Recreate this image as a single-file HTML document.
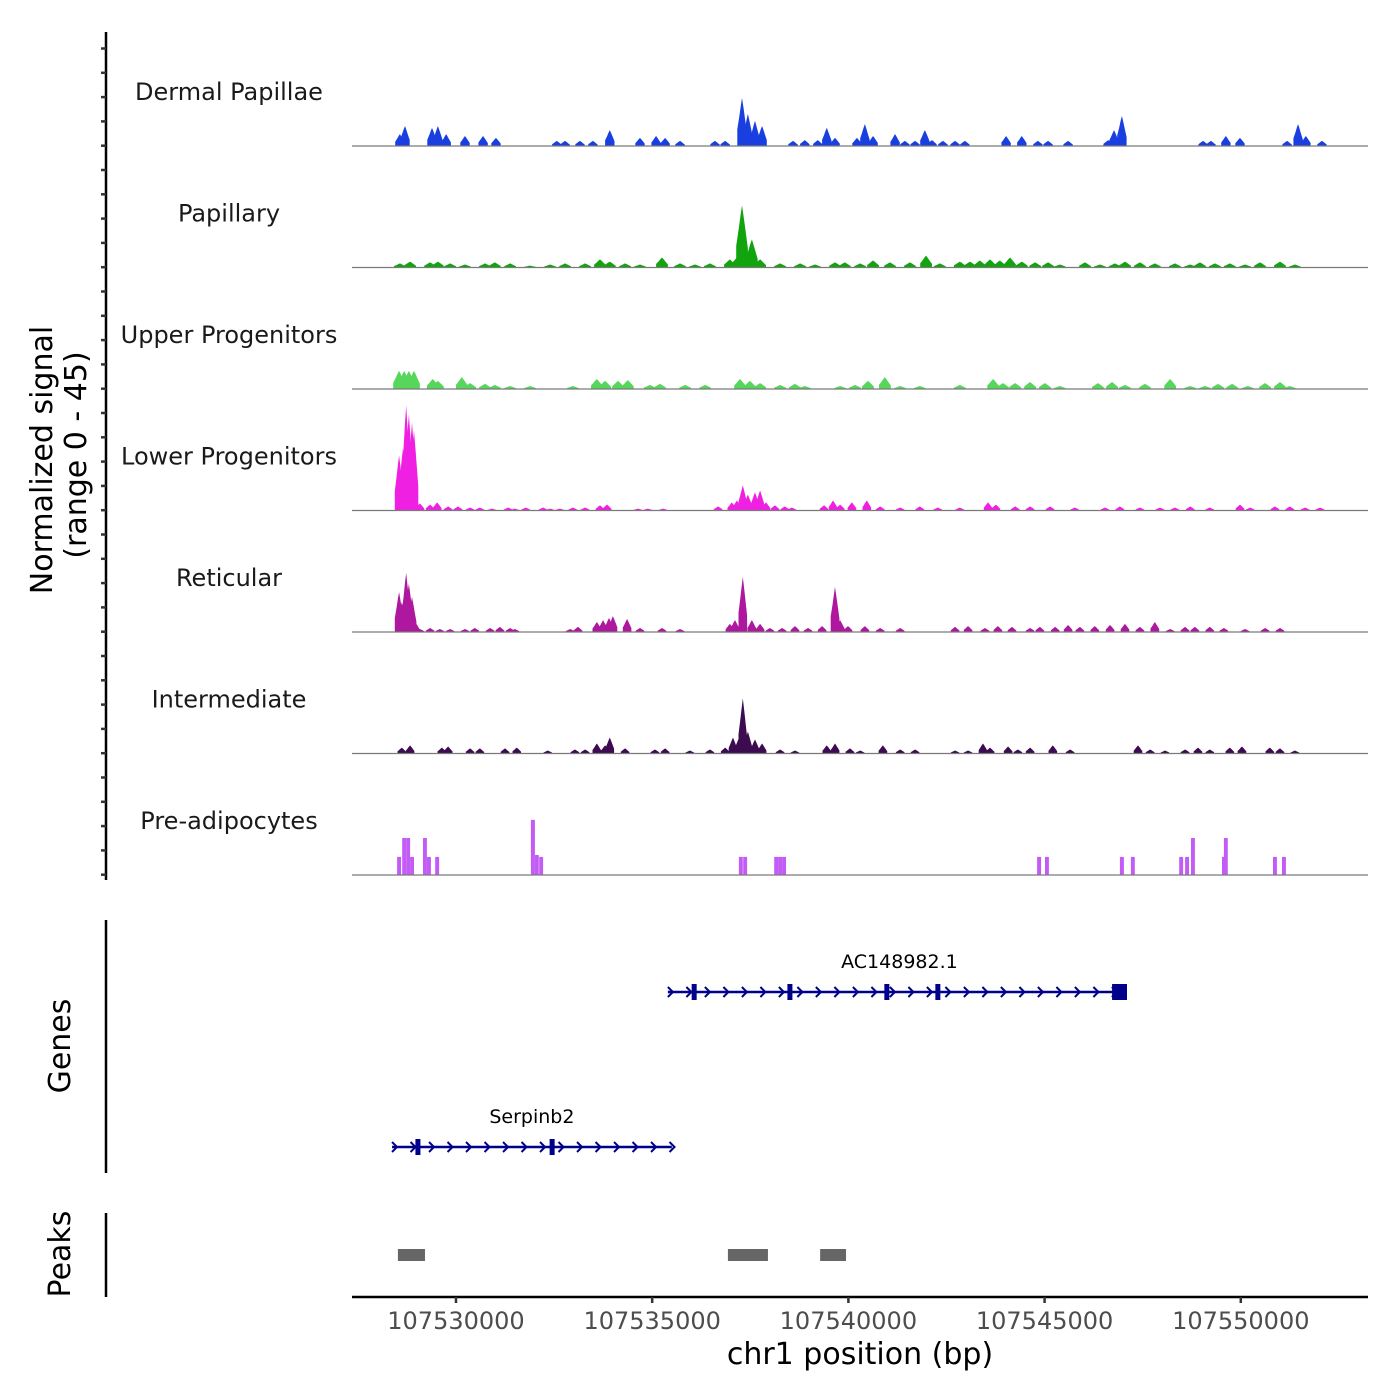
<!DOCTYPE html>
<html><head><meta charset="utf-8">
<style>
html,body{margin:0;padding:0;background:#fff;}
svg{display:block;font-family:"DejaVu Sans","Liberation Sans",sans-serif;}
</style></head>
<body>
<svg id="chart" width="1400" height="1400" viewBox="0 0 1400 1400">
  <g id="left"></g>
  <g id="tracks"></g>
  <g id="genes"></g>
  <g id="peaks"></g>
  <g id="xaxis"></g>
</svg>
<script>
// ---- data (positions in kb offset from region start 107527350 bp; values in normalized signal units) ----
const REGION_START_BP = 107527350;
const xTickValues = [107530000, 107535000, 107540000, 107545000, 107550000];
const xTickLabels = ["107530000", "107535000", "107540000", "107545000", "107550000"];
const trackNames = ["Dermal Papillae","Papillary","Upper Progenitors","Lower Progenitors","Reticular","Intermediate","Pre-adipocytes"];
const trackColors = ["#1a3fe0","#12a40e","#57d65c","#f020e3","#ad189f","#3c0b50","#c25cf5"];

const dpPos = [1.22,1.35,2.04,2.19,2.40,2.88,3.34,3.67,5.22,5.43,5.81,6.14,6.57,7.34,7.75,7.98,8.36,9.25,9.51,9.94,10.09,10.27,10.45,11.24,11.54,11.87,12.10,12.31,12.87,13.07,13.28,13.84,14.09,14.35,14.60,14.78,15.06,15.37,15.62,16.67,17.07,17.48,17.74,18.25,19.27,19.42,19.62,21.69,21.89,22.27,22.63,23.83,24.11,24.31,24.72];
const dpVal = [4.4,7.4,6.7,7.4,4.4,3.7,3.7,3.0,1.9,1.9,1.9,1.9,5.9,3.0,3.7,3.0,1.9,1.9,1.9,17.8,11.9,9.3,7.4,1.9,2.2,2.2,6.7,3.0,3.0,8.1,3.7,4.4,1.9,1.9,5.9,2.2,1.9,1.9,1.9,3.7,3.7,1.9,1.9,1.9,2.2,5.9,11.1,1.9,1.9,3.7,3.0,1.9,8.1,3.7,1.9];

const paPos = [1.22,1.48,1.99,2.19,2.50,2.88,3.39,3.64,4.03,4.54,5.05,5.43,5.94,6.32,6.57,6.96,7.34,7.90,8.36,8.74,9.12,9.63,9.81,9.94,10.19,10.40,10.91,11.42,11.80,12.31,12.56,12.95,13.28,13.71,14.22,14.63,14.98,15.49,15.75,16.00,16.26,16.51,16.77,17.07,17.41,17.74,18.04,18.68,19.06,19.44,19.70,20.08,20.46,20.97,21.36,21.61,21.99,22.37,22.76,23.14,23.65,24.03];
const paVal = [1.5,2.2,1.9,2.2,1.5,1.1,1.5,1.9,1.5,0.7,1.1,1.5,1.5,3.0,2.2,1.5,1.1,3.7,1.5,1.1,1.5,3.0,3.7,23.0,10.4,3.0,1.5,1.5,1.1,1.9,1.9,1.5,2.6,1.9,1.9,4.4,1.5,2.2,2.2,2.6,3.0,2.6,3.7,2.2,1.9,1.9,1.1,1.9,1.1,1.5,2.2,1.9,1.5,1.5,1.1,1.9,1.5,1.5,1.1,1.9,2.2,1.1];

const upPos = [1.20,1.33,1.45,1.58,2.06,2.19,2.80,3.01,3.39,3.64,4.03,4.54,5.63,6.24,6.45,6.78,7.03,7.59,7.85,8.49,9.00,9.89,10.14,10.40,10.91,11.29,11.54,12.44,12.82,13.15,13.58,13.97,14.47,15.49,16.34,16.59,16.90,17.28,17.66,18.04,19.01,19.37,19.70,20.21,20.85,21.36,21.74,22.07,22.43,22.83,23.27,23.65,23.90];
const upVal = [6.7,6.7,6.7,6.7,3.7,3.0,4.4,2.2,1.9,1.5,1.1,1.1,1.1,3.7,3.0,3.0,3.3,1.5,1.9,1.5,1.5,3.7,3.0,2.2,1.5,1.9,1.1,1.1,1.5,3.0,4.4,1.1,1.1,1.5,3.7,2.2,2.2,2.6,2.2,1.1,2.2,2.6,1.5,1.9,3.7,1.1,1.1,1.9,1.9,1.1,2.2,2.6,1.1];

const lpPos = [1.20,1.30,1.38,1.45,1.53,1.58,1.73,1.99,2.17,2.45,2.70,3.01,3.26,3.57,3.98,4.15,4.43,4.87,5.05,5.30,5.63,5.94,6.32,6.50,7.29,7.54,7.93,9.33,9.68,9.81,9.96,10.09,10.27,10.40,10.55,10.78,11.03,11.21,12.03,12.26,12.44,12.74,13.12,13.46,13.97,14.47,14.93,15.49,16.21,16.41,16.90,17.28,17.79,18.42,19.19,19.57,20.08,20.59,20.97,21.36,21.86,22.63,22.89,23.52,23.90,24.29,24.67];
const lpVal = [20.4,23.0,38.9,35.6,32.6,29.6,2.6,2.2,3.0,1.5,1.5,1.1,1.1,0.7,1.1,0.7,1.1,1.1,0.7,0.7,1.1,1.1,1.9,2.2,0.7,0.7,0.7,1.5,3.0,3.7,9.3,5.9,6.7,7.4,3.0,1.9,1.5,1.1,1.9,3.7,2.2,3.0,3.7,1.5,1.1,1.5,1.1,1.1,3.0,2.2,1.5,1.5,1.5,1.1,1.1,1.5,1.1,1.1,1.1,1.5,1.1,2.2,1.1,1.5,1.5,1.1,1.1];

const rePos = [1.20,1.27,1.38,1.45,1.53,1.61,1.73,1.99,2.24,2.50,2.88,3.13,3.52,3.77,4.03,4.15,5.56,5.76,6.24,6.40,6.55,6.65,7.01,7.34,7.90,8.36,9.63,9.76,9.96,10.19,10.40,10.65,10.96,11.29,11.62,11.98,12.31,12.44,12.64,13.07,13.46,13.97,15.37,15.70,16.13,16.46,16.82,17.28,17.53,17.92,18.25,18.55,18.93,19.32,19.70,20.08,20.46,20.85,21.23,21.48,21.86,22.22,22.76,23.27,23.65];
const reVal = [14.8,11.1,21.9,17.8,13.0,3.7,1.1,1.5,1.1,1.1,1.1,1.5,1.5,1.9,1.5,1.1,1.1,1.9,3.7,4.4,5.2,5.9,4.8,1.5,1.5,1.1,3.0,4.4,20.4,4.4,3.0,1.5,1.5,2.2,1.5,2.2,16.7,4.4,2.2,2.2,1.5,1.5,1.9,2.2,1.5,2.2,1.9,1.5,1.9,1.9,2.6,1.9,2.2,2.6,3.0,1.9,3.7,1.1,1.9,1.9,1.9,1.5,1.1,1.5,1.5];

const inPos = [1.27,1.48,2.29,2.45,3.01,3.26,3.90,4.20,4.99,5.68,5.94,6.24,6.45,6.57,6.96,7.72,7.98,8.61,9.12,9.51,9.71,9.86,9.96,10.09,10.27,10.45,10.91,11.29,12.10,12.31,12.69,12.95,13.53,13.97,14.35,15.37,15.70,16.08,16.26,16.72,16.97,17.28,17.86,18.30,20.03,20.34,20.72,21.23,21.56,21.86,22.37,22.68,23.39,23.65,24.03];
const inVal = [2.2,3.0,2.2,2.6,1.9,1.9,1.9,2.2,1.1,1.5,1.5,3.7,3.0,5.9,1.9,1.5,1.9,1.1,1.5,2.2,5.9,5.6,20.4,8.1,5.2,3.7,1.5,1.1,3.0,3.7,1.9,1.1,3.0,1.5,1.5,1.1,1.1,3.7,2.2,2.6,1.5,2.2,3.0,1.5,3.0,1.5,1.1,1.5,2.2,1.5,2.2,2.6,2.2,1.9,1.1];

const adPos = [1.20,1.33,1.43,1.53,1.86,1.96,2.17,4.61,4.71,4.82,9.91,10.02,10.81,10.91,11.01,17.51,17.71,19.62,19.90,21.13,21.28,21.43,22.22,22.27,23.52,23.75];
const adVal = [6.7,13.7,13.7,6.7,13.7,6.7,6.7,20.4,7.4,6.7,6.7,6.7,6.7,6.7,6.7,6.7,6.7,6.7,6.7,6.7,6.7,13.7,6.7,13.7,6.7,6.7];

const geneNames = ["AC148982.1","Serpinb2"];
const geneStarts = [8.05, 1.02];
const geneEnds = [19.75, 8.15];
const geneExons = [[8.72, 11.16, 13.63, 14.93], [1.68, 5.10]];
const geneUtrStart = [19.37, null];
const peakStarts = [1.17, 9.58, 11.93];
const peakEnds = [1.86, 10.60, 12.59];

const trackPos = [dpPos, paPos, upPos, lpPos, rePos, inPos, adPos];
const trackVal = [dpVal, paVal, upVal, lpVal, reVal, inVal, adVal];
const trackWidthKb = [0.24, 0.3, 0.3, 0.22, 0.22, 0.22, 0.1];

// ---- scales ----
const PLOT_L = 352, PLOT_R = 1368, PX_PER_KB = 39.24;
function xKb(kb){ return PLOT_L + kb * PX_PER_KB; }
function xBp(bp){ return xKb((bp - REGION_START_BP) / 1000); }
const BASE0 = 146, TRACK_H = 121.5, PX_PER_UNIT = 2.7;
function baseY(i){ return BASE0 + i * TRACK_H; }
function yVal(i, v){ return baseY(i) - v * PX_PER_UNIT; }

const NS = "http://www.w3.org/2000/svg";
function mk(tag, attrs, parent){
  const el = document.createElementNS(NS, tag);
  for (const k in attrs) el.setAttribute(k, attrs[k]);
  parent.appendChild(el);
  return el;
}

// ---- left axes ----
const left = document.getElementById('left');
let el = mk('line', {x1:106, y1:32, x2:106, y2:880, stroke:'#000', 'stroke-width':2.5}, left);


for (let k = 0; k < 35; k++){
  const y = 48.5 + k * 24.3;
  el = mk('line', {x1:101, y1:y, x2:106, y2:y, stroke:'#333', 'stroke-width':2.5}, left);
  
  
}
el = mk('text', {x:0, y:0, transform:'translate(52,460) rotate(-90)', 'text-anchor':'middle', 'font-size':30, fill:'#000'}, left);
el.textContent = 'Normalized signal';


el = mk('text', {x:0, y:0, transform:'translate(86,455) rotate(-90)', 'text-anchor':'middle', 'font-size':30, fill:'#000'}, left);
el.textContent = '(range 0 - 45)';


el = mk('line', {x1:106, y1:920, x2:106, y2:1173, stroke:'#000', 'stroke-width':2.5}, left);


el = mk('text', {x:0, y:0, transform:'translate(70,1046) rotate(-90)', 'text-anchor':'middle', 'font-size':30, fill:'#000'}, left);
el.textContent = 'Genes';


el = mk('line', {x1:106, y1:1213, x2:106, y2:1297, stroke:'#000', 'stroke-width':2.5}, left);


el = mk('text', {x:0, y:0, transform:'translate(70,1254) rotate(-90)', 'text-anchor':'middle', 'font-size':30, fill:'#000'}, left);
el.textContent = 'Peaks';



// ---- coverage tracks ----
const tracks = document.getElementById('tracks');
trackNames.forEach((name, i) => {
  const g = mk('g', {}, tracks);
  
  
  const lbl = mk('text', {x:229, y:baseY(i) - 46, 'text-anchor':'middle', 'font-size':24, fill:'#1a1a1a'}, g);
  lbl.textContent = name;
  
  
  const pos = trackPos[i], val = trackVal[i], w = trackWidthKb[i];
  const b = baseY(i);
  for (let k = 0; k < pos.length; k++){
    const xc = xKb(pos[k]), hw = w * PX_PER_KB / 2, yt = yVal(i, val[k]);
    let pts;
    if (i === 6) {
      pts = [[xc-hw,b],[xc-hw,yt],[xc+hw,yt],[xc+hw,b]];
    } else {
      const hgt = b - yt;
      pts = [[xc-hw,b],[xc-hw,b-hgt*0.35],[xc-hw*0.6,b-hgt*0.6],[xc-hw*0.25,b-hgt*0.85],[xc,yt],[xc+hw*0.3,b-hgt*0.8],[xc+hw*0.65,b-hgt*0.55],[xc+hw,b-hgt*0.3],[xc+hw,b]];
    }
    const p = mk('polygon', {points: pts.map(q => q[0].toFixed(1)+','+q[1].toFixed(1)).join(' '), fill: trackColors[i]}, g);
    
    
  }
  const bl = mk('line', {x1:PLOT_L, y1:b, x2:PLOT_R, y2:b, stroke:'#7a7a7a', 'stroke-width':1.2}, g);
  
  
});

// ---- genes ----
const genes = document.getElementById('genes');
const geneY = [992, 1147];
geneNames.forEach((name, i) => {
  const g = mk('g', {}, genes);
  
  
  const y = geneY[i], x1 = xKb(geneStarts[i]), x2 = xKb(geneEnds[i]);
  const t = mk('text', {x:(x1+x2)/2 + (i===0?2:0), y:y-24, 'text-anchor':'middle', 'font-size':19, fill:'#000'}, g);
  t.textContent = name;
  
  
  const ln = mk('line', {x1:x1, y1:y, x2:x2, y2:y, stroke:'#00008b', 'stroke-width':2.5}, g);
  
  
  for (let x = x1 + 3; x < x2 + 2; x += 18.5){
    const a = mk('polyline', {points:`${x-3},${y-5} ${x+2},${y} ${x-3},${y+5}`, fill:'none', stroke:'#00008b', 'stroke-width':2}, g);
    
    
  }
  geneExons[i].forEach(e => {
    const r = mk('rect', {x:xKb(e)-2.5, y:y-8, width:5, height:16, fill:'#00008b'}, g);
    
    
  });
  if (geneUtrStart[i] !== null){
    const r = mk('rect', {x:xKb(geneUtrStart[i]), y:y-8, width:xKb(geneEnds[i])-xKb(geneUtrStart[i]), height:16, fill:'#00008b'}, g);
    
    
  }
});

// ---- peaks ----
const peaks = document.getElementById('peaks');
peakStarts.forEach((s, i) => {
  const r = mk('rect', {x:xKb(s), y:1249, width:xKb(peakEnds[i])-xKb(s), height:12, fill:'#666666'}, peaks);
  
  
});

// ---- x axis ----
const xa = document.getElementById('xaxis');
el = mk('line', {x1:PLOT_L, y1:1297, x2:PLOT_R, y2:1297, stroke:'#000', 'stroke-width':2.5}, xa);


xTickValues.forEach((v, i) => {
  const x = xBp(v);
  const tk = mk('line', {x1:x, y1:1297, x2:x, y2:1303, stroke:'#333', 'stroke-width':2.5}, xa);
  
  
  const tl = mk('text', {x:x, y:1329, 'text-anchor':'middle', 'font-size':24, fill:'#4d4d4d'}, xa);
  tl.textContent = xTickLabels[i];
  
  
});
el = mk('text', {x:860, y:1364, 'text-anchor':'middle', 'font-size':30, fill:'#000'}, xa);
el.textContent = 'chr1 position (bp)';


</script>
</body></html>
